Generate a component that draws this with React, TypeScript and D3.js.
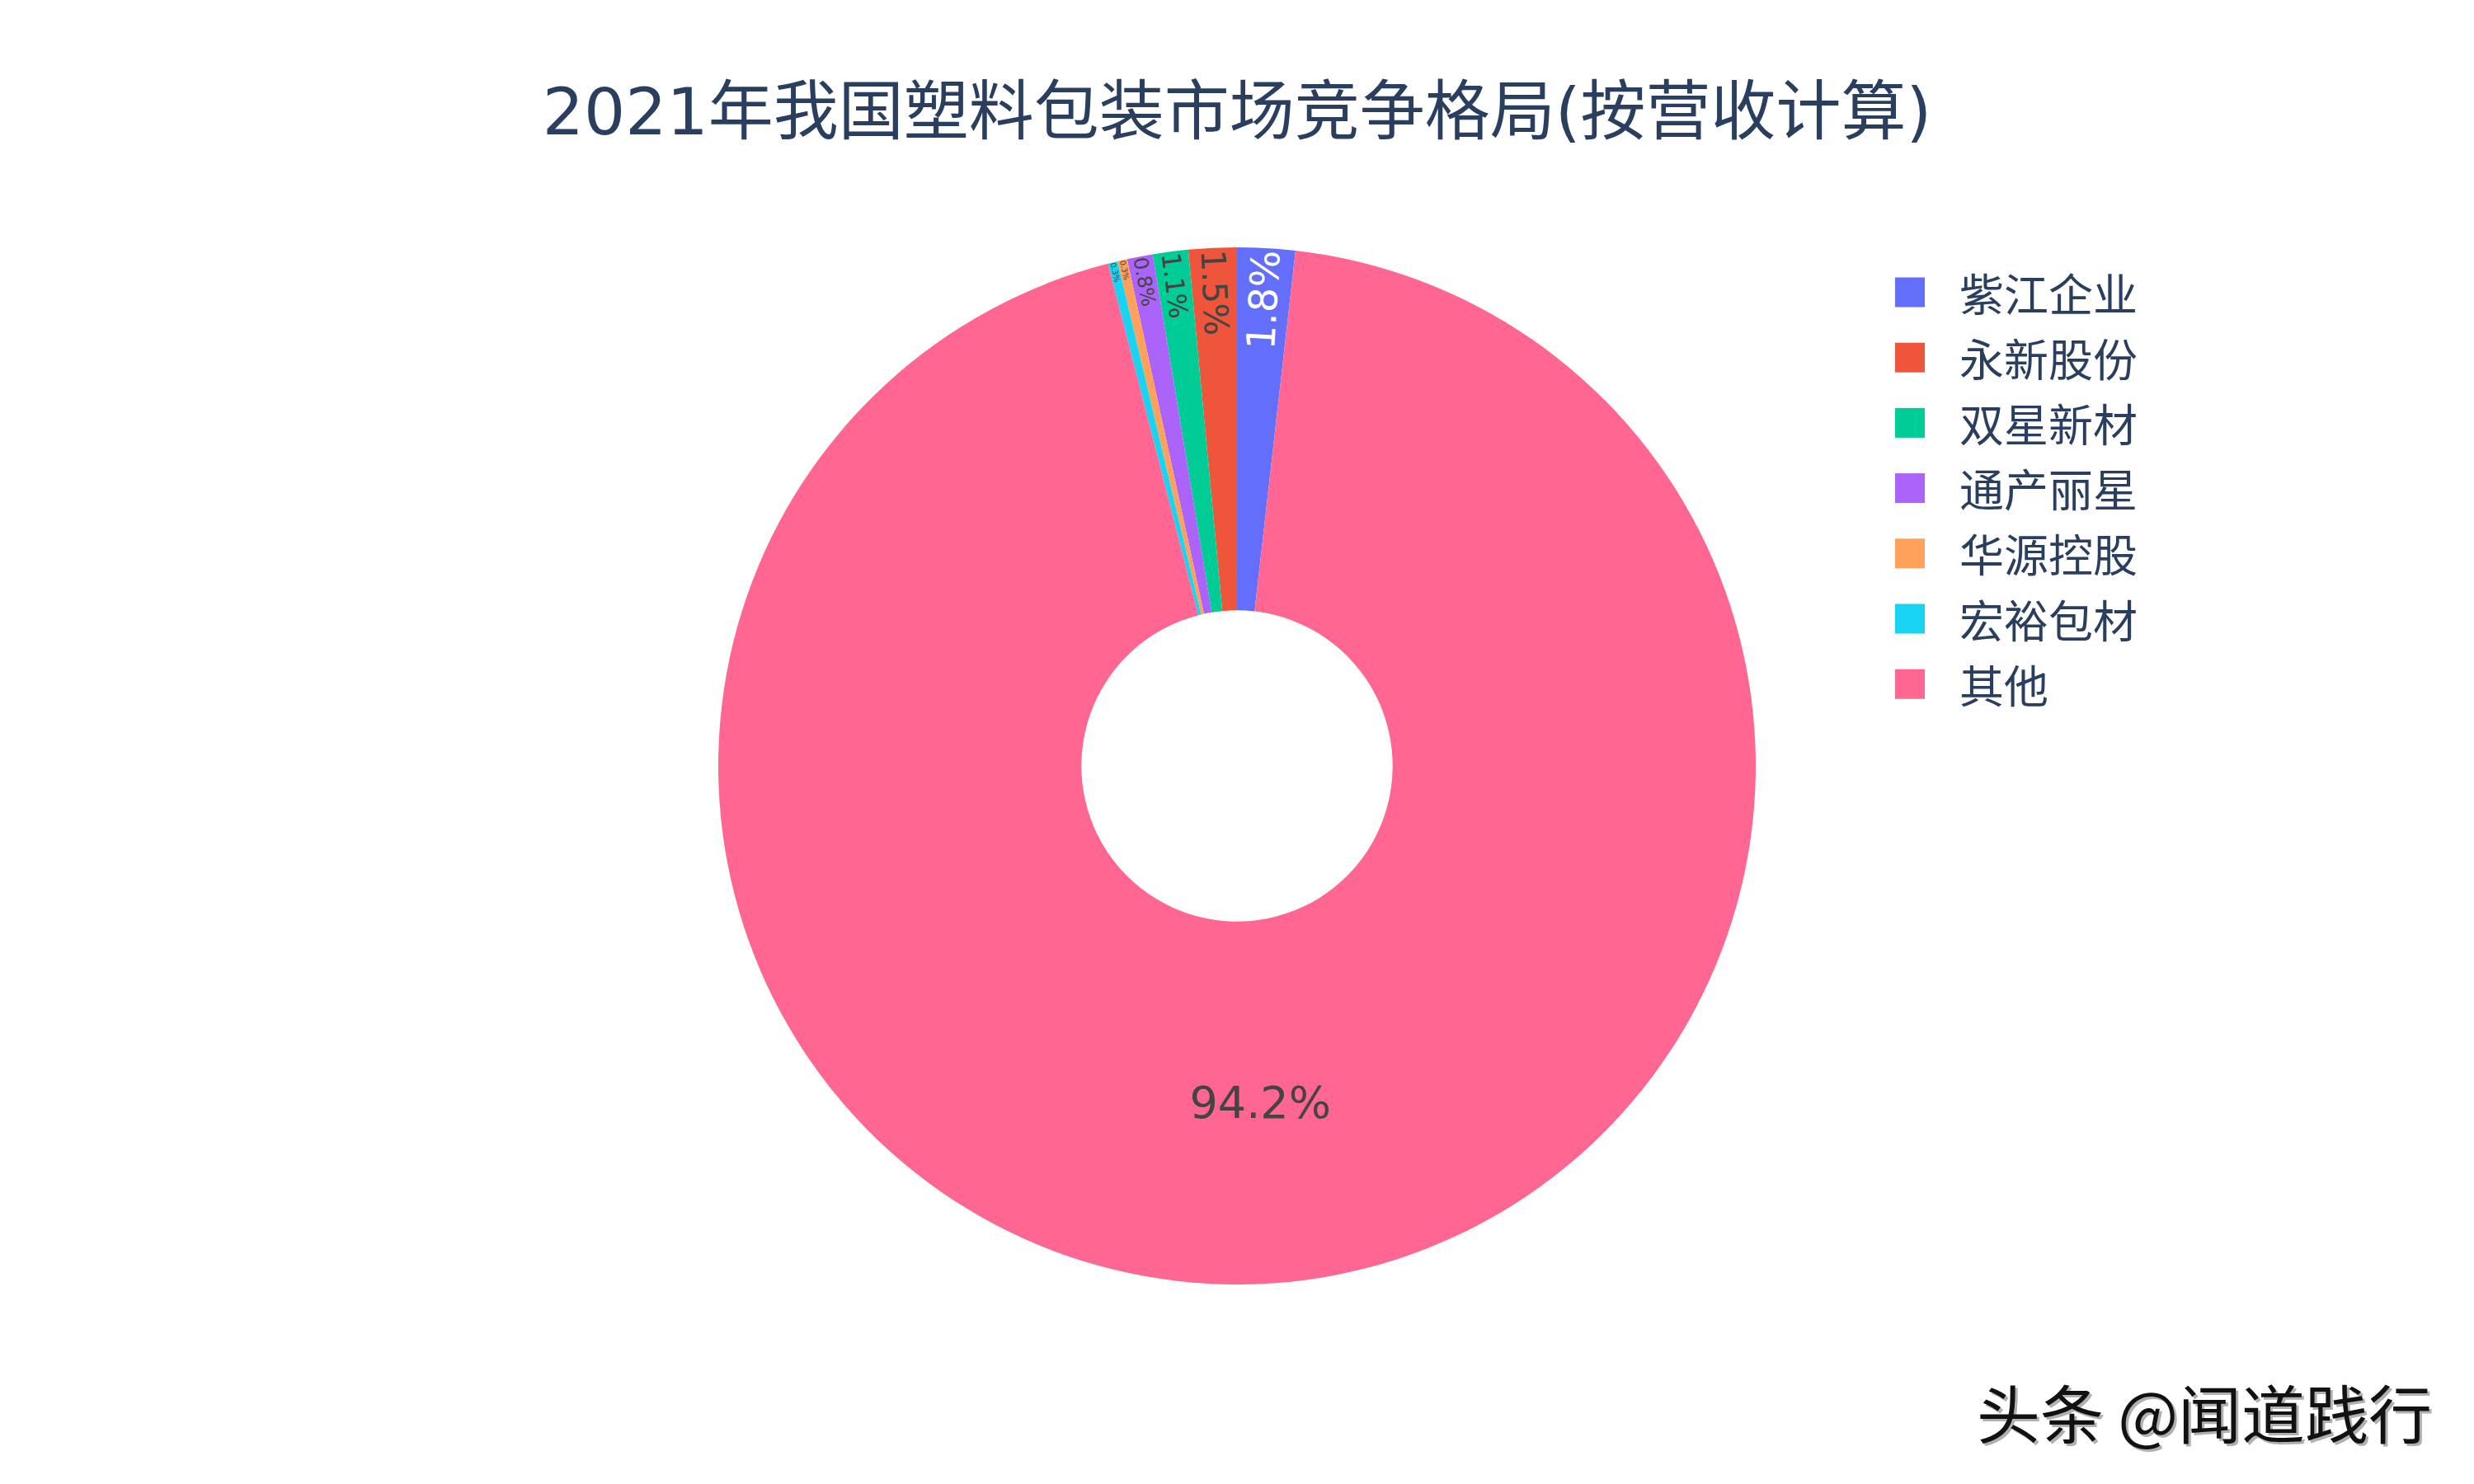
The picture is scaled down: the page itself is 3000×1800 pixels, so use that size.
import React, { useEffect, useMemo } from 'react';
import * as d3 from 'd3';

// ---- data ----
const labels = ['紫江企业', '永新股份', '双星新材', '通产丽星', '华源控股', '宏裕包材', '其他'];
const values = [1.8, 1.5, 1.1, 0.8, 0.3, 0.3, 94.2];
const colors = ['#636efa', '#EF553B', '#00cc96', '#ab63fa', '#FFA15A', '#19d3f3', '#FF6692'];
const titleText = '2021年我国塑料包装市场竞争格局(按营收计算)';
const watermarkText = '头条 @闻道践行';

// ---- layout ----
const W = 3000;
const H = 1800;
const CX = 1500;
const CY = 929;
const R = 629;
const HOLE = 0.3;
const FONT = "'DejaVu Sans', 'Noto Sans CJK SC', sans-serif";
const TEXT_SIZE = 54;
const TEXTPAD = 9;
const ASC = 0.928;
const DESC = 0.236;

function measure(text: string, size: number): number {
  const ctx = document.createElement('canvas').getContext('2d');
  if (!ctx) return text.length * size * 0.6;
  ctx.font = `${size}px 'DejaVu Sans', 'Noto Sans CJK SC', sans-serif`;
  return ctx.measureText(text).width;
}

function brightness(hex: string): number {
  const c = d3.rgb(hex);
  return (c.r * 299 + c.g * 587 + c.b * 114) / 1000;
}

function fmtPct(v: number, total: number): string {
  let t = ((v / total) * 100).toPrecision(3);
  if (t.indexOf('.') >= 0) t = t.replace(/0+$/, '').replace(/\.$/, '');
  return t + '%';
}

function maxHalf(a: number, half: number, r: number, ring: number): number {
  const q = a + 1 / (2 * Math.tan(half));
  return r * Math.min(1 / (Math.sqrt(q * q + 0.5) + q), ring / (Math.sqrt(a * a + ring / 2) + a));
}

function norm(deg: number): number {
  let d = deg;
  while (d > 90) d -= 180;
  while (d <= -90) d += 180;
  return d;
}

export default function App() {
  useEffect(() => {
    document.body.style.margin = '0';
  }, []);

  const total = d3.sum(values);
  const a0 = (values[0] / total) * 2 * Math.PI;
  const pieArcs = d3
    .pie<number>()
    .sort(null)
    .value((d) => d)
    .startAngle(a0)
    .endAngle(a0 - 2 * Math.PI)(values);

  const arcGen = d3
    .arc<d3.PieArcDatum<number>>()
    .innerRadius(R * HOLE)
    .outerRadius(R);

  const texts = useMemo(() => {
    const ring = 1 - HOLE;
    return pieArcs.map((p, i) => {
      const lo = Math.min(p.startAngle, p.endAngle);
      const hi = Math.max(p.startAngle, p.endAngle);
      const half = (hi - lo) / 2;
      const mid = (lo + hi) / 2;
      const txt = fmtPct(values[i], total);
      const w = measure(txt, TEXT_SIZE);
      const h = TEXT_SIZE * (ASC + DESC);
      const screenDeg = (mid * 180) / Math.PI - 90;

      const rIns = Math.min(1 / (1 + 1 / Math.sin(Math.min(half, Math.PI / 2))), ring / 2);
      const diam = Math.hypot(w, h);
      let best = { scale: (rIns * R * 2) / diam, rCenter: 1 - rIns, rotate: 0 };
      if (best.scale < 1) {
        const rp = Math.max(0, R - 2 * TEXTPAD);
        const aR = w / h;
        const sR = maxHalf(aR, half, rp, ring);
        const bR = sR / rp;
        const rad = {
          scale: (sR * 2) / h,
          rCenter: Math.sqrt(Math.max(0, 1 - bR * bR)) - aR * bR,
          rotate: norm(screenDeg),
        };
        const aT = h / w;
        const sT = maxHalf(aT, half, rp, ring);
        const bT = sT / rp;
        const tan = {
          scale: (sT * 2) / w,
          rCenter: Math.sqrt(Math.max(0, 1 - bT * bT)) - aT * bT,
          rotate: norm(screenDeg + 90),
        };
        if (rad.scale > best.scale) best = rad;
        if (tan.scale > best.scale) best = tan;
      }
      const scale = Math.min(1, best.scale);
      const px = CX + best.rCenter * R * Math.sin(mid);
      const py = CY - best.rCenter * R * Math.cos(mid);
      const fs = TEXT_SIZE * scale;
      const fill = brightness(colors[i]) < 128 ? '#ffffff' : '#444444';
      return { txt, px, py, rotate: best.rotate, fs, fill };
    });
  }, []);

  const legendY0 = 354.5;
  const legendStep = 79.2;

  return (
    <svg
      width={W}
      height={H}
      viewBox={`0 0 ${W} ${H}`}
      style={{ position: 'absolute', left: 0, top: 0, display: 'block', background: '#fff' }}
      fontFamily={FONT}
    >
      <rect x={0} y={0} width={W} height={H} fill="#ffffff" />
      <text x={1500} y={163} textAnchor="middle" fontSize={79} fill="#2a3f5f">
        {titleText}
      </text>

      <g transform={`translate(${CX},${CY})`}>
        {pieArcs.map((p, i) => (
          <path key={labels[i]} d={arcGen(p) || ''} fill={colors[i]} />
        ))}
      </g>

      {texts.map((t, i) => (
        <text
          key={'t' + i}
          transform={`translate(${t.px},${t.py}) rotate(${t.rotate})`}
          y={((ASC - DESC) / 2) * t.fs}
          textAnchor="middle"
          fontSize={t.fs}
          fill={t.fill}
        >
          {t.txt}
        </text>
      ))}

      <g>
        {labels.map((l, i) => {
          const cy = legendY0 + i * legendStep;
          return (
            <g key={'l' + i}>
              <rect x={2298} y={cy - 18} width={36} height={36} fill={colors[i]} />
              <text x={2376} y={cy + 23} fontSize={54} fill="#2a3f5f">
                {l}
              </text>
            </g>
          );
        })}
      </g>

      <text x={2400} y={1748} fontSize={77} fill="#b0b0b0" fontFamily="'Noto Sans CJK SC', sans-serif">
        {watermarkText}
      </text>
      <text x={2397} y={1745} fontSize={77} fill="#111111" fontFamily="'Noto Sans CJK SC', sans-serif">
        {watermarkText}
      </text>
    </svg>
  );
}
